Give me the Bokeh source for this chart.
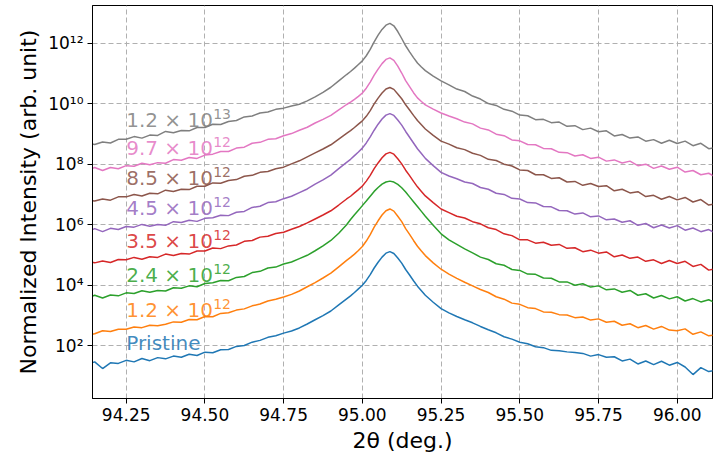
from bokeh.plotting import figure
from bokeh.models import (Range1d, FixedTicker, PrintfTickFormatter,
                          CustomJSTickFormatter, ColumnDataSource)
from bokeh.core.properties import value
from bokeh.embed import file_html
from bokeh.resources import INLINE

# 2theta scan positions (deg.)
two_theta = [94.125, 94.15, 94.175, 94.2, 94.225, 94.25, 94.275, 94.3, 94.325, 94.35,
             94.375, 94.4, 94.425, 94.45, 94.475, 94.5, 94.525, 94.55, 94.575, 94.6,
             94.625, 94.65, 94.675, 94.7, 94.725, 94.75, 94.775, 94.8, 94.825, 94.85,
             94.875, 94.9, 94.925, 94.95, 94.9625, 94.975, 94.9875, 95.0, 95.0125, 95.025,
             95.0375, 95.05, 95.0625, 95.075, 95.0875, 95.1, 95.1125, 95.125, 95.1375, 95.15,
             95.1625, 95.175, 95.1875, 95.2, 95.225, 95.25, 95.275, 95.3, 95.325, 95.35,
             95.375, 95.4, 95.425, 95.45, 95.475, 95.5, 95.525, 95.55, 95.575, 95.6,
             95.625, 95.65, 95.675, 95.7, 95.725, 95.75, 95.775, 95.8, 95.825, 95.85,
             95.875, 95.9, 95.925, 95.95, 95.975, 96.0, 96.025, 96.05, 96.075, 96.1,
             96.125]

# log10 of normalized intensity, per fluence
log_pristine = [1.38, 1.47, 1.25, 1.44, 1.42, 1.52, 1.47, 1.58, 1.51, 1.61,
                1.57, 1.66, 1.62, 1.72, 1.68, 1.79, 1.77, 1.87, 1.88, 1.98,
                2.01, 2.12, 2.18, 2.28, 2.33, 2.42, 2.49, 2.59, 2.72, 2.86,
                3.00, 3.15, 3.35, 3.55, 3.65, 3.76, 3.88, 4.00, 4.16, 4.35,
                4.57, 4.76, 4.93, 5.06, 5.11, 5.05, 4.90, 4.73, 4.52, 4.34,
                4.15, 3.97, 3.82, 3.67, 3.44, 3.23, 3.09, 2.97, 2.86, 2.76,
                2.64, 2.53, 2.43, 2.30, 2.22, 2.12, 2.07, 1.97, 1.94, 1.85,
                1.84, 1.80, 1.78, 1.75, 1.66, 1.71, 1.62, 1.64, 1.50, 1.56,
                1.40, 1.50, 1.38, 1.49, 1.36, 1.45, 1.30, 1.05, 1.28, 1.15,
                1.20]
log_1p2e12 = [2.36, 2.40, 2.50, 2.47, 2.55, 2.55, 2.62, 2.60, 2.68, 2.66,
              2.71, 2.79, 2.78, 2.87, 2.86, 2.97, 2.96, 3.07, 3.09, 3.18,
              3.22, 3.32, 3.38, 3.48, 3.54, 3.61, 3.70, 3.81, 3.95, 4.09,
              4.24, 4.40, 4.61, 4.82, 4.92, 5.03, 5.15, 5.28, 5.46, 5.67,
              5.92, 6.13, 6.32, 6.46, 6.52, 6.45, 6.28, 6.10, 5.87, 5.68,
              5.48, 5.29, 5.13, 4.98, 4.74, 4.53, 4.37, 4.23, 4.10, 3.98,
              3.86, 3.76, 3.62, 3.54, 3.41, 3.37, 3.26, 3.23, 3.12, 3.11,
              3.03, 3.02, 2.93, 2.95, 2.85, 2.89, 2.78, 2.81, 2.68, 2.73,
              2.60, 2.67, 2.55, 2.64, 2.52, 2.50, 2.56, 2.38, 2.46, 2.33,
              2.36]
log_2p4e12 = [3.57, 3.67, 3.58, 3.68, 3.65, 3.75, 3.73, 3.82, 3.77, 3.83,
              3.81, 3.92, 3.90, 3.98, 3.95, 4.06, 4.08, 4.16, 4.15, 4.26,
              4.29, 4.42, 4.46, 4.57, 4.60, 4.70, 4.77, 4.88, 4.99, 5.14,
              5.30, 5.48, 5.72, 6.00, 6.17, 6.33, 6.48, 6.63, 6.78, 6.94,
              7.10, 7.23, 7.34, 7.41, 7.44, 7.41, 7.33, 7.22, 7.08, 6.92,
              6.76, 6.60, 6.44, 6.28, 5.98, 5.70, 5.50, 5.35, 5.20, 5.07,
              4.93, 4.85, 4.71, 4.66, 4.52, 4.49, 4.37, 4.36, 4.24, 4.23,
              4.11, 4.11, 4.00, 4.05, 3.94, 3.98, 3.85, 3.88, 3.77, 3.83,
              3.67, 3.72, 3.58, 3.66, 3.55, 3.62, 3.48, 3.56, 3.45, 3.52,
              3.40]
log_3p5e12 = [4.79, 4.74, 4.80, 4.75, 4.85, 4.84, 4.92, 4.86, 4.94, 4.92,
              5.03, 4.98, 5.05, 5.03, 5.13, 5.13, 5.23, 5.21, 5.30, 5.33,
              5.45, 5.48, 5.59, 5.62, 5.71, 5.75, 5.85, 5.94, 6.06, 6.19,
              6.32, 6.46, 6.65, 6.85, 6.94, 7.05, 7.16, 7.28, 7.44, 7.63,
              7.85, 8.04, 8.21, 8.34, 8.39, 8.33, 8.18, 8.01, 7.80, 7.62,
              7.43, 7.25, 7.10, 6.95, 6.73, 6.52, 6.40, 6.28, 6.22, 6.10,
              6.03, 5.90, 5.84, 5.70, 5.64, 5.50, 5.50, 5.39, 5.42, 5.32,
              5.35, 5.22, 5.24, 5.11, 5.16, 5.06, 5.10, 4.94, 5.00, 4.89,
              4.93, 4.79, 4.84, 4.72, 4.82, 4.72, 4.79, 4.62, 4.69, 4.50,
              4.55]
log_4p5e12 = [5.77, 5.87, 5.77, 5.88, 5.84, 5.94, 5.92, 6.01, 5.95, 6.01,
              5.98, 6.10, 6.07, 6.15, 6.11, 6.21, 6.23, 6.31, 6.30, 6.41,
              6.44, 6.57, 6.61, 6.73, 6.76, 6.86, 6.94, 7.06, 7.18, 7.34,
              7.48, 7.64, 7.85, 8.06, 8.16, 8.28, 8.40, 8.53, 8.70, 8.90,
              9.12, 9.32, 9.49, 9.62, 9.67, 9.61, 9.46, 9.29, 9.08, 8.89,
              8.70, 8.51, 8.35, 8.19, 7.95, 7.73, 7.61, 7.52, 7.41, 7.36,
              7.23, 7.17, 7.04, 7.00, 6.87, 6.85, 6.73, 6.72, 6.60, 6.59,
              6.47, 6.46, 6.35, 6.39, 6.26, 6.29, 6.16, 6.19, 6.08, 6.13,
              5.98, 6.04, 5.90, 5.99, 5.89, 5.97, 5.82, 5.89, 5.77, 5.84,
              5.70]
log_8p5e12 = [6.82, 6.78, 6.85, 6.81, 6.92, 6.92, 7.00, 6.95, 7.04, 7.02,
              7.14, 7.10, 7.17, 7.16, 7.27, 7.27, 7.38, 7.37, 7.46, 7.49,
              7.60, 7.63, 7.73, 7.76, 7.85, 7.90, 8.01, 8.11, 8.24, 8.37,
              8.50, 8.64, 8.83, 9.02, 9.11, 9.21, 9.32, 9.43, 9.58, 9.77,
              9.99, 10.18, 10.35, 10.48, 10.53, 10.47, 10.32, 10.16, 9.96, 9.79,
              9.61, 9.44, 9.30, 9.16, 8.95, 8.76, 8.66, 8.54, 8.48, 8.36,
              8.29, 8.16, 8.12, 8.00, 7.94, 7.81, 7.79, 7.65, 7.65, 7.53,
              7.55, 7.41, 7.43, 7.30, 7.36, 7.26, 7.29, 7.12, 7.17, 7.05,
              7.09, 6.93, 6.97, 6.84, 6.93, 6.82, 6.90, 6.75, 6.83, 6.65,
              6.70]
log_9p7e12 = [7.79, 7.89, 7.79, 7.89, 7.85, 7.95, 7.93, 8.03, 7.98, 8.05,
              8.03, 8.15, 8.13, 8.22, 8.19, 8.30, 8.33, 8.42, 8.42, 8.53,
              8.56, 8.69, 8.72, 8.82, 8.84, 8.94, 9.01, 9.12, 9.22, 9.36,
              9.48, 9.61, 9.79, 9.97, 10.05, 10.14, 10.24, 10.35, 10.51, 10.71,
              10.94, 11.14, 11.32, 11.46, 11.51, 11.43, 11.24, 11.01, 10.76, 10.56,
              10.36, 10.19, 10.07, 9.96, 9.82, 9.69, 9.59, 9.50, 9.39, 9.33,
              9.19, 9.13, 8.99, 8.94, 8.80, 8.77, 8.65, 8.64, 8.52, 8.51,
              8.39, 8.38, 8.27, 8.31, 8.19, 8.23, 8.10, 8.14, 8.04, 8.10,
              7.95, 8.00, 7.86, 7.94, 7.83, 7.90, 7.74, 7.79, 7.65, 7.70,
              7.56]
log_1p2e13 = [8.69, 8.65, 8.73, 8.70, 8.82, 8.82, 8.91, 8.86, 8.96, 8.95,
              9.08, 9.04, 9.11, 9.10, 9.21, 9.21, 9.32, 9.31, 9.41, 9.44,
              9.56, 9.59, 9.69, 9.72, 9.81, 9.85, 9.92, 9.98, 10.09, 10.22,
              10.37, 10.54, 10.75, 10.96, 11.06, 11.17, 11.29, 11.41, 11.58, 11.79,
              12.04, 12.26, 12.45, 12.59, 12.65, 12.57, 12.38, 12.15, 11.91, 11.71,
              11.52, 11.34, 11.21, 11.09, 10.91, 10.75, 10.62, 10.48, 10.40, 10.25,
              10.15, 10.00, 9.94, 9.81, 9.75, 9.62, 9.60, 9.47, 9.48, 9.37,
              9.39, 9.25, 9.27, 9.14, 9.19, 9.07, 9.10, 8.93, 8.98, 8.86,
              8.90, 8.76, 8.81, 8.69, 8.79, 8.68, 8.76, 8.61, 8.69, 8.51,
              8.56]

series = [log_pristine, log_1p2e12, log_2p4e12, log_3p5e12,
          log_4p5e12, log_8p5e12, log_9p7e12, log_1p2e13]
label_mantissa = ["Pristine", "1.2 × 10", "2.4 × 10", "3.5 × 10",
                  "4.5 × 10", "8.5 × 10", "9.7 × 10", "1.2 × 10"]
label_exponent = ["", "12", "12", "12", "12", "12", "12", "13"]
colors = ["#1f77b4", "#ff7f0e", "#2ca02c", "#d62728",
          "#9467bd", "#8c564b", "#e377c2", "#7f7f7f"]

x_ticks = [94.25, 94.5, 94.75, 95.0, 95.25, 95.5, 95.75, 96.0]
y_ticks = [1e2, 1e4, 1e6, 1e8, 1e10, 1e12]

FONT = "DejaVu Sans"

p = figure(width=713, height=455,
           x_range=Range1d(94.143, 96.112),
           y_range=Range1d(10 ** 0.26, 10 ** 13.24),
           y_axis_type="log",
           output_backend="svg", toolbar_location=None,
           min_border_left=92, min_border_right=1,
           min_border_top=5, min_border_bottom=56)
p.background_fill_color = "white"
p.border_fill_color = "white"
p.outline_line_color = "black"
p.outline_line_width = 1

xt = FixedTicker(ticks=x_ticks, minor_ticks=[])
yt = FixedTicker(ticks=y_ticks, minor_ticks=[])
p.xaxis.ticker = xt
p.yaxis.ticker = yt
p.xgrid.ticker = xt
p.ygrid.ticker = yt
p.xaxis.formatter = PrintfTickFormatter(format="%.2f")
p.yaxis.formatter = CustomJSTickFormatter(code="""
const e = Math.round(Math.log10(tick));
const sup = {'0':'\u2070','1':'\u00b9','2':'\u00b2','3':'\u00b3','4':'\u2074',
             '5':'\u2075','6':'\u2076','7':'\u2077','8':'\u2078','9':'\u2079','-':'\u207b'};
return '10' + String(e).split('').map(c => sup[c]).join('');
""")

for ax in (p.xaxis, p.yaxis):
    ax.major_tick_out = 5
    ax.major_tick_in = 0
    ax.minor_tick_out = 0
    ax.minor_tick_in = 0
    ax.axis_line_color = "black"
    ax.major_tick_line_color = "black"
    ax.major_label_text_font = FONT
    ax.major_label_text_font_size = "17px"
    ax.major_label_text_color = "black"
    ax.axis_label_text_font = FONT
    ax.axis_label_text_font_size = "22px"
    ax.axis_label_text_font_style = "normal"
    ax.axis_label_text_color = "black"
    ax.major_label_standoff = 4
    ax.axis_label_standoff = 4

p.xaxis.axis_label = "2θ (deg.)"
p.yaxis.axis_label = "Normalized Intensity (arb. unit)"

for g in (p.xgrid, p.ygrid):
    g.grid_line_color = "#b0b0b0"
    g.grid_line_dash = "5 3"
    g.grid_line_width = 1

for vals, c in zip(series, colors):
    p.line(two_theta, [10 ** v for v in vals], line_color=c, line_width=1.5)

# labels placed above each curve near 94.25 deg
lab_x = 94.25
i0 = two_theta.index(lab_x)
lab_y = []
for vals in series:
    local = vals[i0 - 2:i0 + 3]
    lab_y.append(10 ** (sum(local) / len(local) + 0.62))
src = ColumnDataSource(dict(x=[lab_x] * len(series), y=lab_y, text=label_mantissa,
                            sup=label_exponent, color=colors))
p.text(x="x", y="y", text="text", text_color="color", source=src,
       text_font=value(FONT), text_font_size=value("20px"),
       text_baseline="middle", text_align="left", text_alpha=0.85)
# superscript exponents drawn right after the mantissa "d.d × 10"
p.text(x="x", y="y", text="sup", text_color="color", source=src,
       x_offset=87, y_offset=-6,
       text_font=value(FONT), text_font_size=value("14px"),
       text_baseline="middle", text_align="left", text_alpha=0.85)

open("out.html", "w").write(file_html(p, INLINE))
